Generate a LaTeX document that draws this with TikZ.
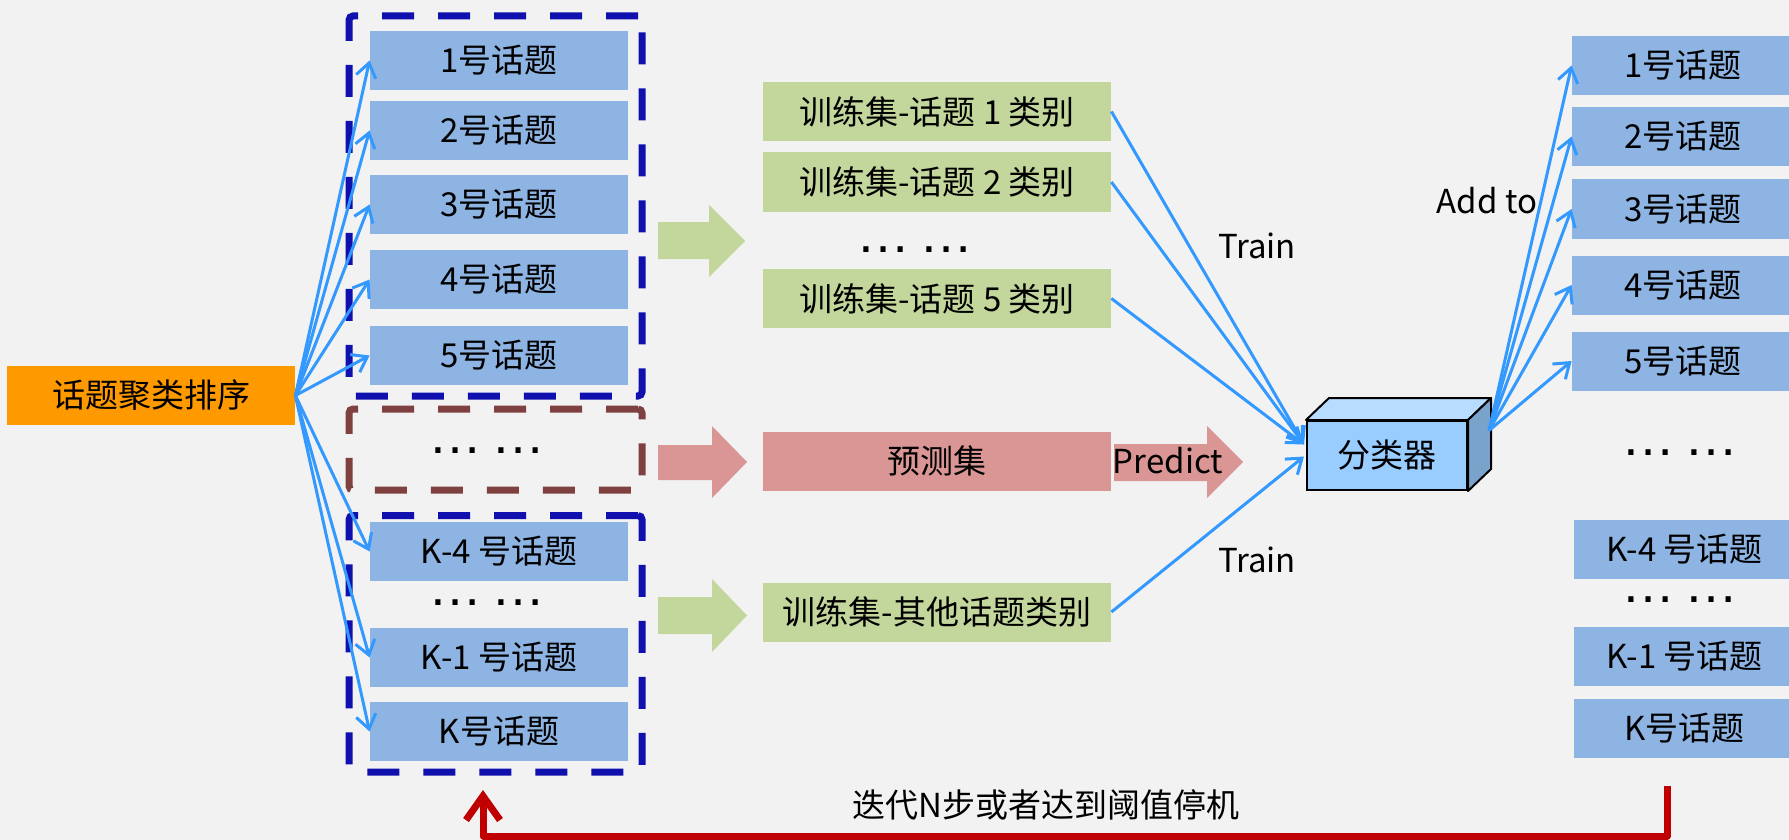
\documentclass[tikz,border=0pt]{standalone}
\usepackage{fontspec}
\setmainfont{Noto Sans CJK SC}
\newfontfamily\dotfont{Liberation Sans}
\usetikzlibrary{arrows.meta}
\definecolor{bgc}{HTML}{F2F2F2}
\definecolor{orangebox}{HTML}{FF9900}
\definecolor{bluebox}{HTML}{8EB4E3}
\definecolor{greenbox}{HTML}{C3D69B}
\definecolor{pinkbox}{HTML}{D99694}
\definecolor{dashblue}{HTML}{1010AE}
\definecolor{dashbrown}{HTML}{7F4040}
\definecolor{arrowblue}{HTML}{3399FF}
\definecolor{loopred}{HTML}{C00000}
\definecolor{cubefront}{HTML}{99CCFF}
\definecolor{cubetop}{HTML}{B8DCFF}
\definecolor{cubeside}{HTML}{7AA3CC}
\newcommand{\mydots}{{\dotfont\fontsize{27pt}{27pt}\selectfont …\kern0.15em…}}
\begin{document}
\begin{tikzpicture}[x=0.5pt,y=-0.5pt,
  every node/.style={font=\fontsize{16.5pt}{19pt}\selectfont, inner sep=0pt, text=black},
  topic/.style={minimum height=29.5pt, minimum width=129pt, fill=bluebox},
  rtopic/.style={minimum height=29.5pt, minimum width=111pt, fill=bluebox},
  trainset/.style={minimum height=29.5pt, minimum width=174pt, fill=greenbox},
  bluefr/.style={draw=dashblue, line width=3.5pt, dash pattern=on 16pt off 12pt, rounded corners=2pt, minimum width=146.5pt},
  brownfr/.style={bluefr, draw=dashbrown},
  fan/.style={draw=arrowblue, line width=1.5pt, -{Straight Barb[length=7pt,width=10pt]}},
  blockarrow/.style={draw=none}
]
\useasboundingbox (0,0) rectangle (1789,840);
\fill[bgc] (0,0) rectangle (1789,840);

% left source
\node[fill=orangebox, minimum width=144pt, minimum height=29.5pt] (org) at (151,395.5) {话题聚类排序};

% dashed groups
\node[bluefr, minimum height=190pt] (grp1) at (495.5,206) {};
\node[brownfr, minimum height=40.5pt] (grpm) at (495.5,449.5) {};
\node[bluefr, minimum height=128.25pt] (grp2) at (495.5,643.75) {};

% left topics
\node[topic] (l1) at (499,60.5) {1号话题};
\node[topic] (l2) at (499,130.5) {2号话题};
\node[topic] (l3) at (499,204.5) {3号话题};
\node[topic] (l4) at (499,279.5) {4号话题};
\node[topic] (l5) at (499,355.5) {5号话题};
\node (ldm) at (487,451) {\mydots};
\node[topic] (lk4) at (499,551.5) {K-4 号话题};
\node (ldk) at (487,603) {\mydots};
\node[topic] (lk1) at (499,657.5) {K-1 号话题};
\node[topic] (lk) at (499,731.5) {K号话题};

\foreach \t in {l1,l2,l3,l4,l5,lk4,lk1,lk}
  \draw[fan] (org.east) -- (\t.west);

% block arrows
\fill[greenbox] (658,222) -- (709,222) -- (709,205) -- (745,241) -- (709,277) -- (709,259) -- (658,259) -- cycle;
\fill[pinkbox] (658,445) -- (712,445) -- (712,426) -- (747,462) -- (712,498) -- (712,480) -- (658,480) -- cycle;
\fill[greenbox] (658,597) -- (712,597) -- (712,579) -- (747,615.5) -- (712,652) -- (712,634) -- (658,634) -- cycle;
\fill[pinkbox] (1114,444) -- (1207,444) -- (1207,426) -- (1243,462) -- (1207,498) -- (1207,481) -- (1114,481) -- cycle;

% middle column
\node[trainset] (g1) at (937,111.5) {训练集-话题 1 类别};
\node[trainset] (g2) at (937,182) {训练集-话题 2 类别};
\node (gd) at (915,250) {\mydots};
\node[trainset] (g5) at (937,298.5) {训练集-话题 5 类别};
\node[trainset, fill=pinkbox] (pre) at (937,461) {预测集};
\node[trainset] (go) at (937,612) {训练集-其他话题类别};
\node (predlbl) at (1168,461) {Predict};

% classifier cube
\node[fill=cubefront, draw=black, line width=1pt, minimum width=80pt, minimum height=34.5pt] (clf) at (1387,455.5) {\raisebox{-3pt}{分类器}};
\filldraw[fill=cubetop, draw=black, line width=1pt, line join=round] (clf.north west) -- ++(23,-22) -- ([shift={(23,-22)}]clf.north east) -- (clf.north east) -- cycle;
\filldraw[fill=cubeside, draw=black, line width=1pt, line join=round] (clf.north east) -- ++(23,-22) -- ([shift={(23,-22)}]clf.south east) -- (clf.south east) -- cycle;
\coordinate (tA) at ([shift={(-2,-11)}]clf.west);
\coordinate (tB) at ([shift={(-2,1)}]clf.west);
\coordinate (cOut) at ([shift={(21,-25)}]clf.east);

\draw[fan] (g1.east) -- (tA);
\draw[fan] (g2.east) -- (tA);
\draw[fan] (g5.east) -- (tA);
\draw[fan] (go.east) -- (tB);
\node (tr1) at (1257,246) {Train};
\node (tr2) at (1257,560) {Train};
\node (addto) at (1487,201) {Add to};

% right column
\node[rtopic] (r1) at (1683,65.5) {1号话题};
\node[rtopic] (r2) at (1683,136.5) {2号话题};
\node[rtopic] (r3) at (1683,209) {3号话题};
\node[rtopic] (r4) at (1683,285) {4号话题};
\node[rtopic] (r5) at (1683,361) {5号话题};
\node (rdm) at (1680,453) {\mydots};
\node[rtopic] (rk4) at (1684.5,549) {K-4 号话题};
\node (rdk) at (1680,600) {\mydots};
\node[rtopic] (rk1) at (1684.5,656) {K-1 号话题};
\node[rtopic] (rk) at (1684.5,728) {K号话题};

\foreach \t in {r1,r2,r3,r4,r5}
  \draw[fan] (cOut) -- (\t.west);

% feedback loop
\coordinate (rs) at (1667,786);
\coordinate (re) at (483,790);
\draw[loopred, line width=3.5pt, line join=round, -{Straight Barb[length=12pt,width=17pt]}] (rs) -- (1667,836) -- (483,836) -- (re);
\node (loopl) at (1046,805) {迭代N步或者达到阈值停机};
\end{tikzpicture}
\end{document}
